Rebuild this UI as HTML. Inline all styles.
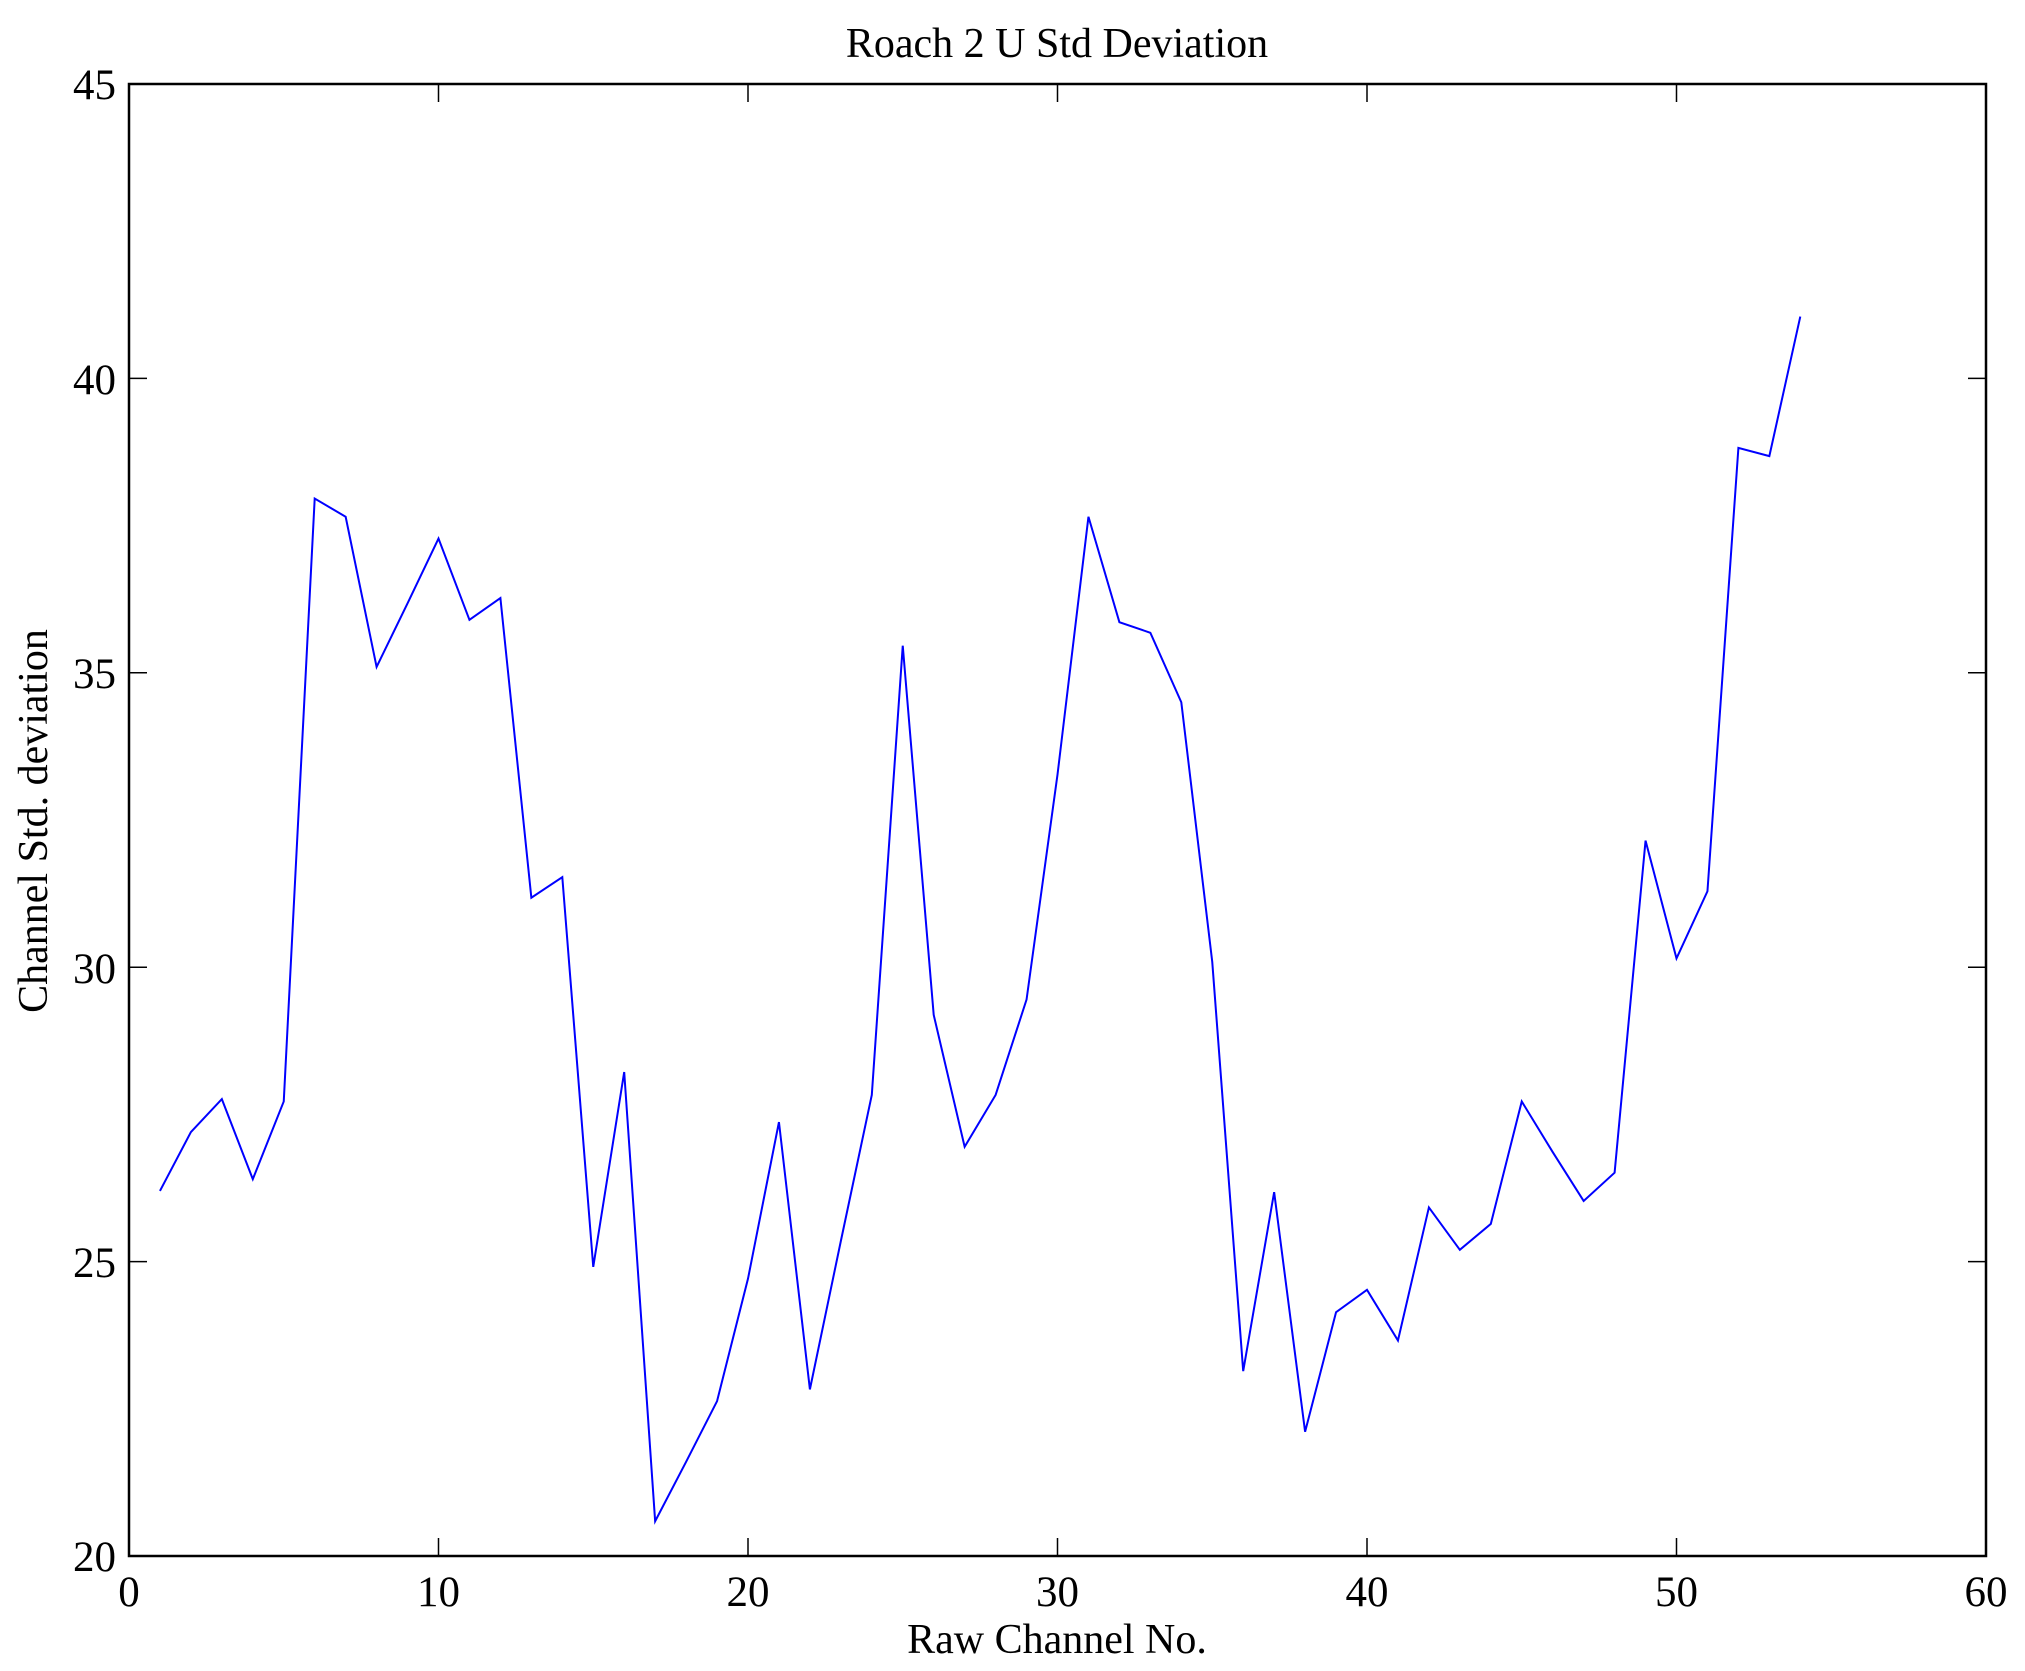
<!DOCTYPE html>
<html><head><style>body{margin:0;background:#fff}svg{display:block}text{font-family:"Liberation Serif",serif;fill:#000}</style></head><body>
<svg width="2025" height="1671" viewBox="0 0 2025 1671" xmlns="http://www.w3.org/2000/svg">
<rect width="2025" height="1671" fill="#fff"/>
<g transform="translate(129,1556) scale(30.95,-58.88)">
<polyline fill="none" stroke="#0000ff" stroke-width="2" vector-effect="non-scaling-stroke" points="1,6.2 2,7.2 3,7.76 4,6.4 5,7.72 6,17.96 7,17.65 8,15.1 9,16.18 10,17.28 11,15.9 12,16.27 13,11.18 14,11.53 15,4.91 16,8.22 17,0.59 18,1.6 19,2.63 20,4.71 21,7.37 22,2.83 23,5.35 24,7.83 25,15.46 26,9.19 27,6.95 28,7.83 29,9.45 30,13.27 31,17.65 32,15.86 33,15.68 34,14.5 35,10.09 36,3.14 37,6.18 38,2.11 39,4.14 40,4.52 41,3.66 42,5.92 43,5.2 44,5.64 45,7.72 46,6.86 47,6.03 48,6.51 49,12.15 50,10.15 51,11.29 52,18.82 53,18.68 54,21.05"/>
</g>
<g stroke="#000" stroke-width="1.5">
<path d="M438.5,1556v-18M438.5,84v18M748,1556v-18M748,84v18M1057.5,1556v-18M1057.5,84v18M1367,1556v-18M1367,84v18M1676.5,1556v-18M1676.5,84v18"/>
<path d="M129,1261.6h18M1986,1261.6h-18M129,967.2h18M1986,967.2h-18M129,672.8h18M1986,672.8h-18M129,378.4h18M1986,378.4h-18M129,84h18M1986,84h-18"/>
</g>
<rect x="129" y="84" width="1857" height="1472" fill="none" stroke="#000" stroke-width="2.5"/>
<g font-size="43" text-anchor="middle">
<text x="129" y="1606">0</text><text x="438.5" y="1606">10</text><text x="748" y="1606">20</text><text x="1057.5" y="1606">30</text><text x="1367" y="1606">40</text><text x="1676.5" y="1606">50</text><text x="1986" y="1606">60</text>
</g>
<g font-size="43" text-anchor="end">
<text x="116" y="1571">20</text><text x="116" y="1277">25</text><text x="116" y="983">30</text><text x="116" y="688">35</text><text x="116" y="394">40</text><text x="116" y="99">45</text>
</g>
<text x="1057" y="1653" font-size="42" text-anchor="middle">Raw Channel No.</text>
<text x="1057" y="57" font-size="42" text-anchor="middle">Roach 2 U Std Deviation</text>
<text transform="translate(47,821) rotate(-90)" font-size="42" text-anchor="middle">Channel Std. deviation</text>
</svg>
</body></html>
